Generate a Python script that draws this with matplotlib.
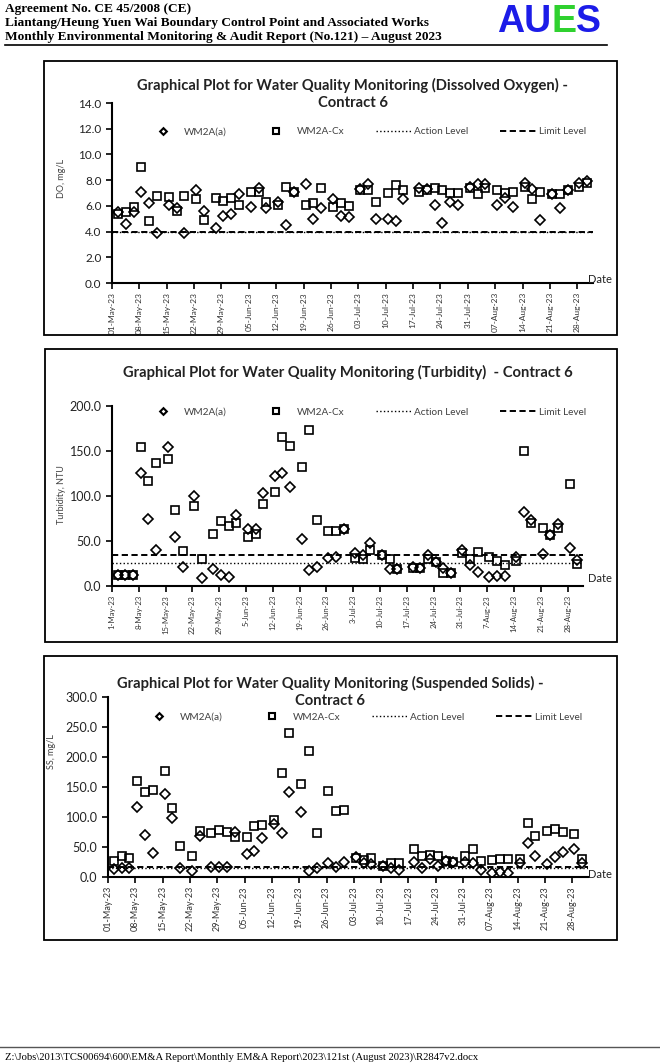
import numpy as np
import pandas as pd
import matplotlib
matplotlib.use("Agg")
import matplotlib.pyplot as plt
import matplotlib.dates as mdates
from matplotlib.ticker import FormatStrFormatter, FuncFormatter
from matplotlib.patches import Rectangle
from matplotlib.lines import Line2D

W, H = 660, 1064

# sampling dates, same for all three plots
dates = ["2023-05-02", "2023-05-04", "2023-05-06", "2023-05-08", "2023-05-10", "2023-05-12",
         "2023-05-15", "2023-05-17", "2023-05-19", "2023-05-22", "2023-05-24", "2023-05-27",
         "2023-05-29", "2023-05-31",
         "2023-06-02", "2023-06-05", "2023-06-07", "2023-06-09", "2023-06-12", "2023-06-14",
         "2023-06-16", "2023-06-19", "2023-06-21", "2023-06-23", "2023-06-26", "2023-06-28",
         "2023-06-30",
         "2023-07-03", "2023-07-05", "2023-07-07", "2023-07-10", "2023-07-12", "2023-07-14",
         "2023-07-18", "2023-07-20", "2023-07-22", "2023-07-24", "2023-07-26", "2023-07-28",
         "2023-07-31",
         "2023-08-02", "2023-08-04", "2023-08-07", "2023-08-09", "2023-08-11", "2023-08-14",
         "2023-08-16", "2023-08-18", "2023-08-21", "2023-08-23", "2023-08-25", "2023-08-28",
         "2023-08-30"]

# dissolved oxygen, mg/L
do_a = [5.5, 4.6, 5.5, 7.1, 6.2, 3.9, 6.1, 5.8, 3.9, 7.2, 5.6, 4.3, 5.2, 5.4,
        6.9, 5.9, 7.4, 5.8, 6.3, 4.5, 7.1, 7.7, 5.0, 5.8, 6.5, 5.2, 5.1,
        7.3, 7.7, 5.0, 5.0, 4.8, 6.5, 7.4, 7.3, 6.1, 4.7, 6.3, 6.1, 7.5,
        7.7, 7.7, 6.1, 6.6, 5.9, 7.8, 7.3, 4.9, 6.9, 5.8, 7.2, 7.8, 7.9]
do_cx = [5.4, 5.5, 5.9, 9.0, 4.8, 6.8, 6.7, 5.6, 6.8, 6.5, 4.9, 6.6, 6.4, 6.6,
         6.1, 7.1, 7.1, 6.3, 6.1, 7.5, 7.1, 6.1, 6.2, 7.4, 5.9, 6.2, 6.0,
         7.2, 7.2, 6.3, 7.0, 7.6, 7.2, 7.1, 7.2, 7.4, 7.2, 7.0, 7.0, 7.4,
         6.9, 7.4, 7.2, 7.0, 7.1, 7.5, 6.5, 7.1, 6.9, 6.9, 7.2, 7.5, 7.8]

# turbidity, NTU
turb_a = [12, 12, 12, 126, 75, 40, 155, 54, 21, 100, 8.5, 18.5, 12, 10.5,
          79, 63, 63, 103, 122, 126, 110, 52, 18, 21, 31, 32, 63,
          37, 34, 48, 35, 18.5, 18.5, 21.5, 20, 34, 27, 20, 15, 40,
          23, 16, 10.5, 11, 11, 32, 82, 73, 36, 57, 69, 42, 29]
turb_cx = [12, 12, 12, 155, 117, 137, 141, 85, 39, 89, 30, 58, 72, 67,
           70, 55, 58, 91, 104, 166, 156, 132, 173, 73, 61.5, 61.5, 63,
           31.5, 29.5, 40, 35, 29.5, 18.5, 19.5, 19.5, 30.5, 27, 15, 15, 37,
           30.5, 37.5, 32, 28, 23.5, 28, 150, 70, 65, 57, 65, 113, 25]

# suspended solids, mg/L
ss_a = [13, 14.5, 14.5, 116, 70, 40.5, 138, 98, 14.5, 10.5, 69, 17, 17, 17,
        75.5, 38, 43, 64.5, 88, 74, 141, 108, 10, 15.5, 24, 17, 25.5,
        34, 23, 21.5, 19, 14.5, 11.5, 24.5, 14.5, 29.5, 19, 26, 25.5, 25.5,
        23, 11.5, 6, 9, 6, 24, 57, 35.5, 21.5, 34, 41, 46.5, 23]
ss_cx = [27, 35.5, 31, 160.5, 141, 145, 176.5, 115.5, 52, 35.5, 77, 74, 78, 75.5,
         67, 66, 85.5, 86.5, 95, 174, 240.5, 155, 210, 74, 143, 110, 111.5,
         31, 28.5, 32, 19, 23, 24, 46.5, 35, 37, 35, 27, 25.5, 35,
         46.5, 26.5, 28.5, 30, 30, 30, 89.5, 69, 76.5, 80, 75.5, 71, 29.5]

do_action, do_limit = 4.0, 4.0
turb_action, turb_limit = 25.2, 34.1
ss_action, ss_limit = 15.5, 16.3

plt.rcParams['font.family'] = ['Lato', 'DejaVu Sans']

x = pd.to_datetime(dates) + pd.Timedelta(hours=12)
x0, x1 = pd.Timestamp("2023-05-01"), pd.Timestamp("2023-09-01")

fig = plt.figure(figsize=(W / 100, H / 100), dpi=100)


def fpx(l, t, r, b):
    return [l / W, 1 - b / H, (r - l) / W, (b - t) / H]


def box(l, t, r, b):
    fig.patches.append(Rectangle((l / W, 1 - b / H), (r - l) / W, (b - t) / H,
                                 transform=fig.transFigure, fill=False,
                                 ec='black', lw=1.3))


def chart(axpx, vals_a, vals_cx, act, lim, ymax, ystep, fmt, ytick_fs, xtick_fs, leg_xy):
    ax = fig.add_axes(fpx(*axpx))
    ax.plot(x, vals_a, ls='none', marker='D', ms=5.6, mfc='none', mec='black', mew=1.2)
    ax.plot(x, vals_cx, ls='none', marker='s', ms=5.6, mfc='none', mec='black', mew=1.2)
    ax.axhline(act, color='black', ls=':', lw=1.0)
    ax.axhline(lim, color='black', ls='--', lw=1.4, dashes=(3.2, 1.8))
    ax.set_xlim(x0, x1)
    ax.set_ylim(0, ymax)
    ax.set_yticks(np.arange(0, ymax + ystep / 2, ystep))
    ax.yaxis.set_major_formatter(FormatStrFormatter('%.1f'))
    ax.xaxis.set_major_locator(mdates.WeekdayLocator(byweekday=mdates.MO))
    ax.xaxis.set_major_formatter(fmt)
    for s in ['top', 'right']:
        ax.spines[s].set_visible(False)
    for s in ['left', 'bottom']:
        ax.spines[s].set_linewidth(1.5)
    ax.tick_params(axis='y', length=4.5, width=1.2, pad=3, labelsize=ytick_fs, labelcolor='#222222')
    ax.tick_params(axis='x', length=4.5, width=1.2, pad=2, labelsize=xtick_fs,
                   labelrotation=90, labelcolor='#333333')
    ax.patch.set_alpha(0)
    handles = [Line2D([], [], ls='none', marker='D', ms=3.4, mfc='none', mec='black', mew=1.5),
               Line2D([], [], ls='none', marker='s', ms=3.8, mfc='none', mec='black', mew=1.5),
               Line2D([], [], color='black', ls=':', lw=1.0),
               Line2D([], [], color='black', ls='--', lw=1.4, dashes=(3.2, 1.8))]
    leg = ax.legend(handles, ['WM2A(a)', 'WM2A-Cx', 'Action Level', 'Limit Level'],
                    ncol=4, loc='center left', bbox_to_anchor=(leg_xy[0] / W, 1 - leg_xy[1] / H),
                    bbox_transform=fig.transFigure, frameon=False, fontsize=7.2,
                    handlelength=3.6, handletextpad=0.3, columnspacing=3.1,
                    borderpad=0, borderaxespad=0, numpoints=1)
    for t in leg.get_texts():
        t.set_color('#404040')
    return ax


fmt_zero = mdates.DateFormatter('%d-%b-%y')
fmt_nozero = FuncFormatter(lambda v, p: f"{mdates.num2date(v).day}-{mdates.num2date(v):%b-%y}")

title_kw = dict(ha='center', va='center', fontsize=10.6, fontweight='bold', color='#222222')

# ---- chart 1 : dissolved oxygen
box(44, 61, 617, 335)
chart((112, 103, 593, 283), do_a, do_cx, do_action, do_limit, 14, 2, fmt_zero, 8.5, 6, (145, 132))
fig.text(353 / W, 1 - 85 / H, "Graphical Plot for Water Quality Monitoring (Dissolved Oxygen) -", **title_kw)
fig.text(353 / W, 1 - 103 / H, "Contract 6", **title_kw)
fig.text(61 / W, 1 - 178 / H, "DO, mg/L", rotation=90, ha='center', va='center',
         fontsize=6.5, color='#404040')
fig.text(588 / W, 1 - 279 / H, "Date", ha='left', va='center', fontsize=8, color='#222222')

# ---- chart 2 : turbidity
box(45, 349, 617, 642)
chart((112, 406, 583, 586), turb_a, turb_cx, turb_action, turb_limit, 200, 50, fmt_nozero, 9, 5.6,
      (145, 412))
fig.text(348 / W, 1 - 372 / H, "Graphical Plot for Water Quality Monitoring (Turbidity)  - Contract 6",
         **title_kw)
fig.text(61 / W, 1 - 495 / H, "Turbidity, NTU", rotation=90, ha='center', va='center',
         fontsize=6.5, color='#404040')
fig.text(588 / W, 1 - 578 / H, "Date", ha='left', va='center', fontsize=8, color='#222222')

# ---- chart 3 : suspended solids
box(44, 656, 617, 940)
chart((108, 697, 588, 877), ss_a, ss_cx, ss_action, ss_limit, 300, 50, fmt_zero, 9, 6.5, (141, 717))
fig.text(330 / W, 1 - 683 / H, "Graphical Plot for Water Quality Monitoring (Suspended Solids) -", **title_kw)
fig.text(330 / W, 1 - 701 / H, "Contract 6", **title_kw)
fig.text(52 / W, 1 - 752 / H, "SS, mg/L", rotation=90, ha='center', va='center',
         fontsize=6.5, color='#404040')
fig.text(588 / W, 1 - 875 / H, "Date", ha='left', va='center', fontsize=8, color='#222222')

# ---- page header / footer
hdr = dict(family='Liberation Serif', fontweight='bold', fontsize=9.6, ha='left', va='center')
fig.text(5 / W, 1 - 9 / H, "Agreement No. CE 45/2008 (CE)", **hdr)
fig.text(5 / W, 1 - 23 / H, "Liantang/Heung Yuen Wai Boundary Control Point and Associated Works", **hdr)
fig.text(5 / W, 1 - 37 / H, "Monthly Environmental Monitoring & Audit Report (No.121) \u2013 August 2023", **hdr)
fig.add_artist(Line2D([5 / W, 607 / W], [1 - 45 / H, 1 - 45 / H], color='black', lw=1.2))

logo = dict(family='Liberation Sans', fontweight='bold', fontsize=27, ha='left', va='center')
t1 = fig.text(497 / W, 1 - 22 / H, "AU", color='#1c1ce8', **logo)
fig.canvas.draw()
bb = t1.get_window_extent()
t2 = fig.text(bb.x1 / W, 1 - 22 / H, "E", color='#2fd12f', **logo)
bb2 = t2.get_window_extent()
fig.text(bb2.x1 / W, 1 - 22 / H, "S", color='#1c1ce8', **logo)

fig.add_artist(Line2D([0, 1], [1 - 1047 / H, 1 - 1047 / H], color='#555555', lw=1.0))
fig.text(5 / W, 1 - 1057 / H,
         "Z:\\Jobs\\2013\\TCS00694\\600\\EM&A Report\\Monthly EM&A Report\\2023\\121st (August 2023)\\R2847v2.docx",
         family='Liberation Serif', fontsize=7.7, ha='left', va='center')

fig.savefig("out.png", dpi=100)
